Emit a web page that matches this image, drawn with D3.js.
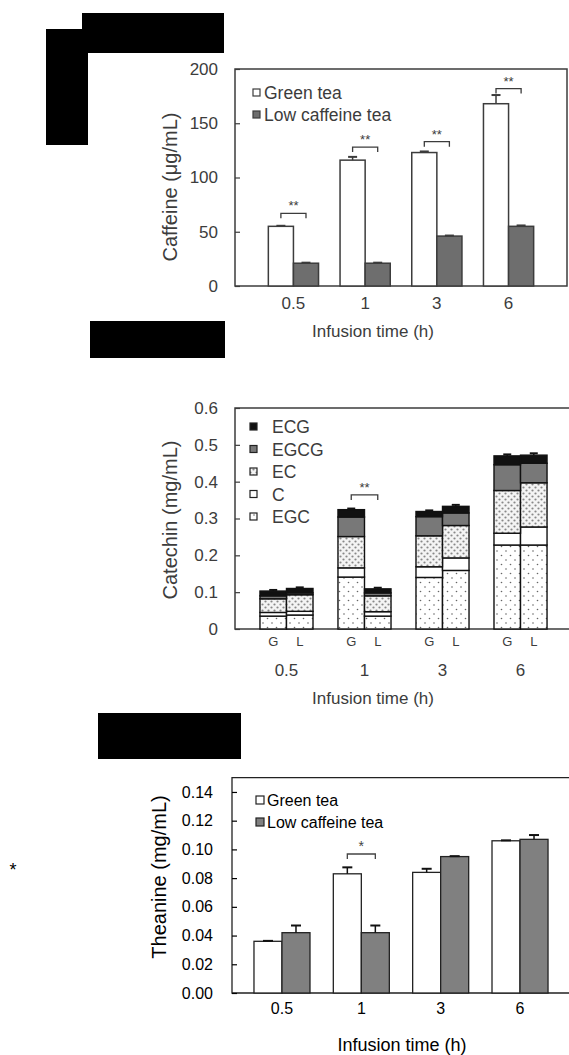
<!DOCTYPE html>
<html>
<head>
<meta charset="utf-8">
<script src="https://cdn.jsdelivr.net/npm/d3@7"></script>
<style>
body { margin: 0; background: #fff; }
svg { display: block; font-family: Arial, "Liberation Sans", sans-serif; }
</style>
</head>
<body>
<div id="viz"></div>
<script>
// infusion times (h)
const times = ['0.5', '1', '3', '6'];
const teas = ['Green tea', 'Low caffeine tea'];

// caffeine (ug/mL)
const caffeineGreen = [55, 116, 123, 168];
const caffeineGreenErr = [0.5, 3, 1, 8];
const caffeineLow = [21, 21, 46, 55];
const caffeineLowErr = [0.5, 0.5, 0.5, 0.8];
const caffeineSig = [67, 128, 133, 182];
const caffeineTicks = [0, 50, 100, 150, 200];

// catechins (mg/mL), bars G,L for each time
const catechinBars = ['0.5G', '0.5L', '1G', '1L', '3G', '3L', '6G', '6L'];
const catechinNames = ['EGC', 'C', 'EC', 'EGCG', 'ECG'];
const EGC  = [0.035, 0.038, 0.141, 0.035, 0.140, 0.159, 0.228, 0.228];
const C    = [0.010, 0.010, 0.025, 0.012, 0.029, 0.034, 0.032, 0.049];
const EC   = [0.037, 0.045, 0.085, 0.043, 0.084, 0.088, 0.116, 0.120];
const EGCG = [0.008, 0.005, 0.053, 0.008, 0.052, 0.034, 0.070, 0.053];
const ECG  = [0.013, 0.012, 0.020, 0.011, 0.014, 0.018, 0.024, 0.022];
const catechinErr = [0.003, 0.003, 0.003, 0.003, 0.003, 0.004, 0.004, 0.005];
const catechinTicks = [0, 0.1, 0.2, 0.3, 0.4, 0.5, 0.6];
const catechinSig = 0.364;

// theanine (mg/mL)
const theanineGreen = [0.036, 0.083, 0.084, 0.106];
const theanineGreenErr = [0.0003, 0.0045, 0.0025, 0.0003];
const theanineLow = [0.042, 0.042, 0.095, 0.107];
const theanineLowErr = [0.005, 0.005, 0.0003, 0.003];
const theanineSig = 0.0968;
const theanineTicks = [0, 0.02, 0.04, 0.06, 0.08, 0.10, 0.12, 0.14];

const W = 569, H = 1055;
const svg = d3.select('#viz').append('svg').attr('width', W).attr('height', H);

// patterns
const defs = svg.append('defs');
let pSparse = defs.append('pattern').attr('id', 'sparse').attr('patternUnits', 'userSpaceOnUse')
    .attr('width', 9).attr('height', 9);
pSparse.append('rect').attr('width', 9).attr('height', 9).attr('fill', '#fff');
pSparse.append('circle').attr('cx', 2).attr('cy', 2).attr('r', 0.8).attr('fill', '#666');
pSparse.append('circle').attr('cx', 6.5).attr('cy', 6.5).attr('r', 0.8).attr('fill', '#666');
let pDense = defs.append('pattern').attr('id', 'dense').attr('patternUnits', 'userSpaceOnUse')
    .attr('width', 6).attr('height', 6);
pDense.append('rect').attr('width', 6).attr('height', 6).attr('fill', '#f4f4f4');
pDense.append('circle').attr('cx', 1.5).attr('cy', 1.5).attr('r', 1.1).attr('fill', '#888');
pDense.append('circle').attr('cx', 4.5).attr('cy', 4.5).attr('r', 1.1).attr('fill', '#888');

const catechinFill = {EGC: 'url(#sparse)', C: '#fff', EC: 'url(#dense)', EGCG: '#787878', ECG: '#111'};

// redaction boxes
svg.append('rect').attr('x', 82).attr('y', 13).attr('width', 142).attr('height', 40).attr('fill', '#000');
svg.append('rect').attr('x', 46).attr('y', 29).attr('width', 42).attr('height', 116).attr('fill', '#000');
svg.append('rect').attr('x', 90).attr('y', 321).attr('width', 135).attr('height', 37).attr('fill', '#000');
svg.append('rect').attr('x', 98).attr('y', 713).attr('width', 143).attr('height', 46).attr('fill', '#000');
svg.append('text').attr('x', 13).attr('y', 876).attr('text-anchor', 'middle')
   .attr('font-size', 18).attr('fill', '#000').text('*');

function yAxis(g, y, ticks, fmt, pad, fs, col) {
    g.call(d3.axisLeft(y).tickValues(ticks).tickFormat(fmt).tickSizeInner(-5).tickSizeOuter(0).tickPadding(pad));
    g.select('.domain').remove();
    g.selectAll('line').attr('stroke', col).attr('stroke-width', 1.2);
    g.selectAll('text').attr('font-size', fs).attr('fill', col).attr('font-family', null);
}

function bracket(g, x1, x2, yy, label, col, fs) {
    g.append('path').attr('d', `M${x1},${yy + 5}V${yy}H${x2}V${yy + 5}`)
     .attr('fill', 'none').attr('stroke', col).attr('stroke-width', 1.3);
    g.append('text').attr('x', (x1 + x2) / 2).attr('y', yy - 3).attr('text-anchor', 'middle')
     .attr('font-size', fs).attr('fill', col).text(label);
}

function errorBar(g, x, y0, y1, cap, col) {
    g.append('line').attr('x1', x).attr('x2', x).attr('y1', y0).attr('y2', y1)
     .attr('stroke', col).attr('stroke-width', 1.5);
    g.append('line').attr('x1', x - cap / 2).attr('x2', x + cap / 2).attr('y1', y1).attr('y2', y1)
     .attr('stroke', col).attr('stroke-width', 2);
}

// ---------- panel 1: caffeine ----------
(function() {
    const col = '#3c3c3c';
    const g = svg.append('g');
    const x = d3.scaleBand().domain(times).range([235, 567]).paddingInner(0.3).paddingOuter(0.465);
    const xi = d3.scaleBand().domain(teas).range([0, x.bandwidth()]);
    const y = d3.scaleLinear().domain([0, 200]).range([286, 69]);

    g.append('rect').attr('x', 235).attr('y', 69).attr('width', 332).attr('height', 217)
     .attr('fill', 'none').attr('stroke', col).attr('stroke-width', 1.5);
    g.append('g').attr('transform', 'translate(235,0)')
     .call(a => yAxis(a, y, caffeineTicks, d3.format('d'), 17, 17, col));

    const series = [[caffeineGreen, caffeineGreenErr, '#fff'], [caffeineLow, caffeineLowErr, '#6e6e6e']];
    series.forEach((s, k) => {
        g.selectAll(null).data(times).enter().append('rect')
         .attr('x', d => x(d) + xi(teas[k]))
         .attr('y', (d, i) => y(s[0][i]))
         .attr('width', xi.bandwidth())
         .attr('height', (d, i) => y(0) - y(s[0][i]))
         .attr('fill', s[2]).attr('stroke', col).attr('stroke-width', 1.5);
        times.forEach((t, i) => {
            errorBar(g, x(t) + xi(teas[k]) + xi.bandwidth() / 2, y(s[0][i]), y(s[0][i] + s[1][i]), 9, col);
        });
    });
    times.forEach((t, i) => {
        bracket(g, x(t) + xi.bandwidth() / 2, x(t) + xi.bandwidth() * 1.5, y(caffeineSig[i]), '**', col, 13);
    });
    g.selectAll(null).data(times).enter().append('text')
     .attr('x', d => x(d) + x.bandwidth() / 2).attr('y', 309)
     .attr('text-anchor', 'middle').attr('font-size', 17).attr('fill', col).text(d => d);
    g.append('text').attr('x', 373).attr('y', 337).attr('text-anchor', 'middle')
     .attr('font-size', 17).attr('fill', col).text('Infusion time (h)');
    g.append('text').attr('transform', 'translate(177,187) rotate(-90)').attr('text-anchor', 'middle')
     .attr('font-size', 20).attr('fill', col).text('Caffeine (\u03bcg/mL)');

    const leg = g.append('g');
    [['#fff', 93], ['#6e6e6e', 115]].forEach((l, i) => {
        leg.append('rect').attr('x', 253).attr('y', l[1] - 4).attr('width', 7).attr('height', 7)
           .attr('fill', l[0]).attr('stroke', col).attr('stroke-width', 1.2);
        leg.append('text').attr('x', 264).attr('y', l[1] + 6).attr('font-size', 17.5).attr('fill', col).text(teas[i]);
    });
})();

// ---------- panel 2: catechins ----------
(function() {
    const col = '#3c3c3c';
    const g = svg.append('g');
    const x = d3.scaleBand().domain(times).range([235, 572]).paddingInner(0.32).paddingOuter(0.32);
    const xi = d3.scaleBand().domain(['G', 'L']).range([0, x.bandwidth()]);
    const y = d3.scaleLinear().domain([0, 0.6]).range([629, 408]);

    g.append('path').attr('d', 'M572,408H235V629H572').attr('fill', 'none')
     .attr('stroke', col).attr('stroke-width', 1.5);
    g.append('g').attr('transform', 'translate(235,0)')
     .call(a => yAxis(a, y, catechinTicks, d => d === 0 ? '0' : d3.format('.1f')(d), 17, 17, col));

    const comps = {EGC: EGC, C: C, EC: EC, EGCG: EGCG, ECG: ECG};
    const rows = catechinBars.map((b, i) => {
        const r = {bar: b};
        catechinNames.forEach(n => r[n] = comps[n][i]);
        return r;
    });
    const stacked = d3.stack().keys(catechinNames)(rows);
    const bx = b => x(b.slice(0, -1)) + xi(b.slice(-1));
    stacked.forEach(layer => {
        g.selectAll(null).data(layer).enter().append('rect')
         .attr('x', d => bx(d.data.bar))
         .attr('y', d => y(d[1]))
         .attr('width', xi.bandwidth())
         .attr('height', d => y(d[0]) - y(d[1]))
         .attr('fill', catechinFill[layer.key]).attr('stroke', '#111').attr('stroke-width', 1.4);
    });
    const top = stacked[stacked.length - 1];
    top.forEach((d, i) => {
        errorBar(g, bx(d.data.bar) + xi.bandwidth() / 2, y(d[1]), y(d[1] + catechinErr[i]), 8, '#111');
    });
    bracket(g, x('1') + xi.bandwidth() / 2, x('1') + xi.bandwidth() * 1.5, y(catechinSig), '**', col, 13);

    times.forEach(t => {
        ['G', 'L'].forEach(s => {
            g.append('text').attr('x', x(t) + xi(s) + xi.bandwidth() / 2).attr('y', 646)
             .attr('text-anchor', 'middle').attr('font-size', 13).attr('fill', col).text(s);
        });
        g.append('text').attr('x', x(t) + x.bandwidth() / 2).attr('y', 676)
         .attr('text-anchor', 'middle').attr('font-size', 17).attr('fill', col).text(t);
    });
    g.append('text').attr('x', 373).attr('y', 704).attr('text-anchor', 'middle')
     .attr('font-size', 17).attr('fill', col).text('Infusion time (h)');
    g.append('text').attr('transform', 'translate(177,520) rotate(-90)').attr('text-anchor', 'middle')
     .attr('font-size', 20).attr('fill', col).text('Catechin (mg/mL)');

    const legNames = catechinNames.slice().reverse();
    legNames.forEach((n, i) => {
        const yy = 427 + i * 22.5;
        g.append('rect').attr('x', 250).attr('y', yy - 4).attr('width', 7).attr('height', 7)
         .attr('fill', catechinFill[n]).attr('stroke', '#222').attr('stroke-width', 1.2);
        g.append('text').attr('x', 272).attr('y', yy + 6).attr('font-size', 17.5).attr('fill', col).text(n);
    });
})();

// ---------- panel 3: theanine ----------
(function() {
    const col = '#000';
    const g = svg.append('g');
    const x = d3.scaleBand().domain(times).range([232, 570]).paddingInner(0.294).paddingOuter(0.277);
    const xi = d3.scaleBand().domain(teas).range([0, x.bandwidth()]);
    const y = d3.scaleLinear().domain([0, 0.15]).range([993, 777.6]);

    g.append('path').attr('d', 'M570,777.6H232V993H570').attr('fill', 'none')
     .attr('stroke', '#222').attr('stroke-width', 1.3);
    g.append('g').attr('transform', 'translate(232,0)')
     .call(a => yAxis(a, y, theanineTicks, d3.format('.2f'), 19, 16, col));

    const series = [[theanineGreen, theanineGreenErr, '#fff'], [theanineLow, theanineLowErr, '#808080']];
    series.forEach((s, k) => {
        g.selectAll(null).data(times).enter().append('rect')
         .attr('x', d => x(d) + xi(teas[k]))
         .attr('y', (d, i) => y(s[0][i]))
         .attr('width', xi.bandwidth())
         .attr('height', (d, i) => y(0) - y(s[0][i]))
         .attr('fill', s[2]).attr('stroke', '#222').attr('stroke-width', 1.3);
        times.forEach((t, i) => {
            errorBar(g, x(t) + xi(teas[k]) + xi.bandwidth() / 2, y(s[0][i]), y(s[0][i] + s[1][i]), 10, '#111');
        });
    });
    bracket(g, x('1') + xi.bandwidth() / 2, x('1') + xi.bandwidth() * 1.5, y(theanineSig), '*', '#444', 14);

    g.selectAll(null).data(times).enter().append('text')
     .attr('x', d => x(d) + x.bandwidth() / 2).attr('y', 1014)
     .attr('text-anchor', 'middle').attr('font-size', 16).attr('fill', col).text(d => d);
    g.append('text').attr('x', 402).attr('y', 1051).attr('text-anchor', 'middle')
     .attr('font-size', 18).attr('fill', col).text('Infusion time (h)');
    g.append('text').attr('transform', 'translate(166,877) rotate(-90)').attr('text-anchor', 'middle')
     .attr('font-size', 20).attr('fill', col).text('Theanine (mg/mL)');

    [['#fff', 800], ['#808080', 822]].forEach((l, i) => {
        g.append('rect').attr('x', 256).attr('y', l[1] - 4).attr('width', 8).attr('height', 8)
         .attr('fill', l[0]).attr('stroke', '#222').attr('stroke-width', 1.2);
        g.append('text').attr('x', 267).attr('y', l[1] + 6).attr('font-size', 16).attr('fill', col).text(teas[i]);
    });
})();
</script>
</body>
</html>
